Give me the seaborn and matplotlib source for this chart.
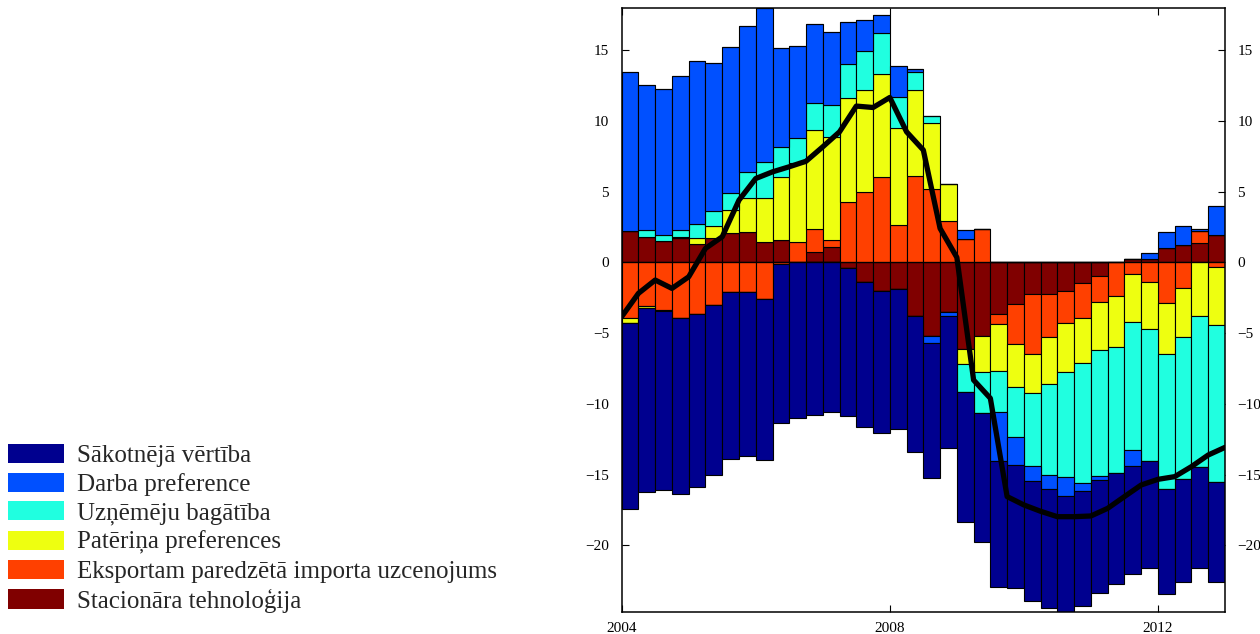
import numpy as np
import matplotlib
matplotlib.use("Agg")
import matplotlib.pyplot as plt
from matplotlib.patches import Patch
import seaborn as sns

# ---------------- data ----------------
start_year = 2004
n_quarters = 36

labels = ["Sākotnējā vērtība", "Darba preference", "Uzņēmēju bagātība",
          "Patēriņa preferences", "Eksportam paredzētā importa uzcenojums",
          "Stacionāra tehnoloģija"]

sakotneja = [-13.19, -12.96, -12.62, -12.41, -12.18, -12.03, -11.80, -11.59, -11.38, -11.22,
             -10.98, -10.77, -10.60, -10.42, -10.25, -10.01, -9.87, -9.63, -9.49, -9.35,
             -9.18, -9.12, -8.88, -8.71, -8.51, -8.41, -8.30, -8.11, -8.00, -7.89,
             -7.65, -7.61, -7.45, -7.28, -7.14, -7.07]
darba = [11.22, 10.27, 10.32, 10.86, 11.58, 10.43, 10.36, 10.28, 10.93, 7.02,
         6.53, 5.58, 5.18, 2.94, 2.17, 1.25, 2.19, 0.17, -0.52, -0.31,
         0.65, 0.0, -3.48, -2.01, -1.06, -1.01, -1.37, -0.59, -0.31, 0.0,
         -1.14, 0.47, 1.13, 1.35, 0.14, 2.05]
uznemeju = [0.0, 0.51, 0.42, 0.51, 0.95, 1.08, 1.18, 1.83, 2.50, 2.12,
            1.76, 1.89, 2.24, 2.47, 2.77, 2.92, 2.19, 1.25, 0.54, 0.0,
            -1.98, -2.89, -2.90, -3.53, -5.16, -6.41, -7.42, -8.43, -8.88, -8.86,
            -9.02, -9.28, -9.54, -10.04, -10.72, -11.10]
paterina = [-0.31, -0.18, -0.12, 0.10, 0.47, 0.87, 1.65, 2.45, 3.11, 4.47,
            5.59, 7.02, 7.30, 7.31, 7.19, 7.30, 6.90, 6.10, 4.66, 2.59,
            -1.08, -2.57, -3.30, -2.99, -2.71, -3.36, -3.42, -3.23, -3.42, -3.65,
            -3.39, -3.37, -3.58, -3.51, -3.77, -4.09]
eksportam = [-3.96, -3.07, -3.35, -3.96, -3.68, -3.02, -2.08, -2.12, -2.59, -0.12,
             1.41, 1.58, 0.52, 4.28, 4.99, 6.01, 2.61, 6.12, 5.16, 2.92,
             1.63, 2.35, -0.71, -2.83, -4.24, -3.00, -2.30, -2.42, -1.81, -2.36,
             -0.85, -1.37, -2.90, -1.79, 0.87, -0.36]
stacionara = [2.21, 1.77, 1.53, 1.70, 1.27, 1.70, 2.05, 2.12, 1.46, 1.58,
              0.0, 0.75, 1.06, -0.42, -1.37, -2.03, -1.91, -3.80, -5.21, -3.49,
              -6.13, -5.21, -3.65, -2.97, -2.26, -2.26, -2.01, -1.49, -0.97, 0.0,
              0.21, 0.21, 0.99, 1.22, 1.34, 1.93]

kopa = [-3.84, -2.19, -1.25, -1.84, -1.02, 0.99, 1.81, 4.40, 5.93, 6.40,
        6.76, 7.15, 8.17, 9.23, 11.05, 10.95, 11.66, 9.23, 7.94, 2.40,
        0.35, -8.32, -9.61, -16.56, -17.15, -17.60, -17.98, -17.98, -17.93, -17.39,
        -16.56, -15.74, -15.34, -15.15, -14.44, -13.62, -13.08]

x_ticks = [2004, 2008, 2012]
y_ticks = [-20, -15, -10, -5, 0, 5, 10, 15]

colors = ["#00008f", "#0050ff", "#20ffe0", "#eeff10", "#ff4000", "#800000"]

# ---------------- plot ----------------
sns.set_theme(style="white")
plt.rcParams["font.family"] = ["Liberation Serif", "DejaVu Serif"]

fig = plt.figure(figsize=(12.6, 6.34), dpi=100)
ax = fig.add_axes([0.4934, 0.0347, 0.4788, 0.9519])

series = [sakotneja, darba, uznemeju, paterina, eksportam, stacionara]
x_bars = start_year + np.arange(n_quarters) / 4.0

pos_bottom = np.zeros(n_quarters)
neg_bottom = np.zeros(n_quarters)
# stacked outward from zero: Stacionāra first, Sākotnējā last
for idx in reversed(range(len(series))):
    vals = np.array(series[idx], dtype=float)
    pos = np.where(vals > 0, vals, 0.0)
    neg = np.where(vals < 0, vals, 0.0)
    ax.bar(x_bars, pos, width=0.25, bottom=pos_bottom, align="edge",
           color=colors[idx], edgecolor="black", linewidth=0.8)
    ax.bar(x_bars, neg, width=0.25, bottom=neg_bottom, align="edge",
           color=colors[idx], edgecolor="black", linewidth=0.8)
    pos_bottom += pos
    neg_bottom += neg

ax.axhline(0, color="black", lw=0.9, zorder=3)

x_line = start_year + np.arange(len(kopa)) / 4.0
sns.lineplot(x=x_line, y=kopa, color="black", linewidth=3.8, ax=ax, zorder=5,
             legend=False)

ax.set_xlim(2004, 2013)
ax.set_ylim(-24.72, 17.95)
ax.set_xticks(x_ticks)
ax.set_yticks(y_ticks)
ax.set_xlabel("")
ax.set_ylabel("")
ax.tick_params(axis="both", direction="in", length=5, width=0.8, labelsize=11,
               colors="black", top=True, right=True, labelright=True,
               bottom=True, left=True)
ax.tick_params(axis="y", pad=9)
ax.tick_params(axis="x", pad=7)
for s in ax.spines.values():
    s.set_color("black")
    s.set_linewidth(1.1)

handles = [Patch(facecolor=c, edgecolor="none") for c in colors]
fig.legend(handles, labels, loc="upper left", bbox_to_anchor=(0.0063, 0.300),
           frameon=False, fontsize=18, handlelength=2.25, handleheight=0.8,
           handletextpad=0.52, labelspacing=0.22, borderpad=0, borderaxespad=0)

fig.savefig("out.png", dpi=100)
